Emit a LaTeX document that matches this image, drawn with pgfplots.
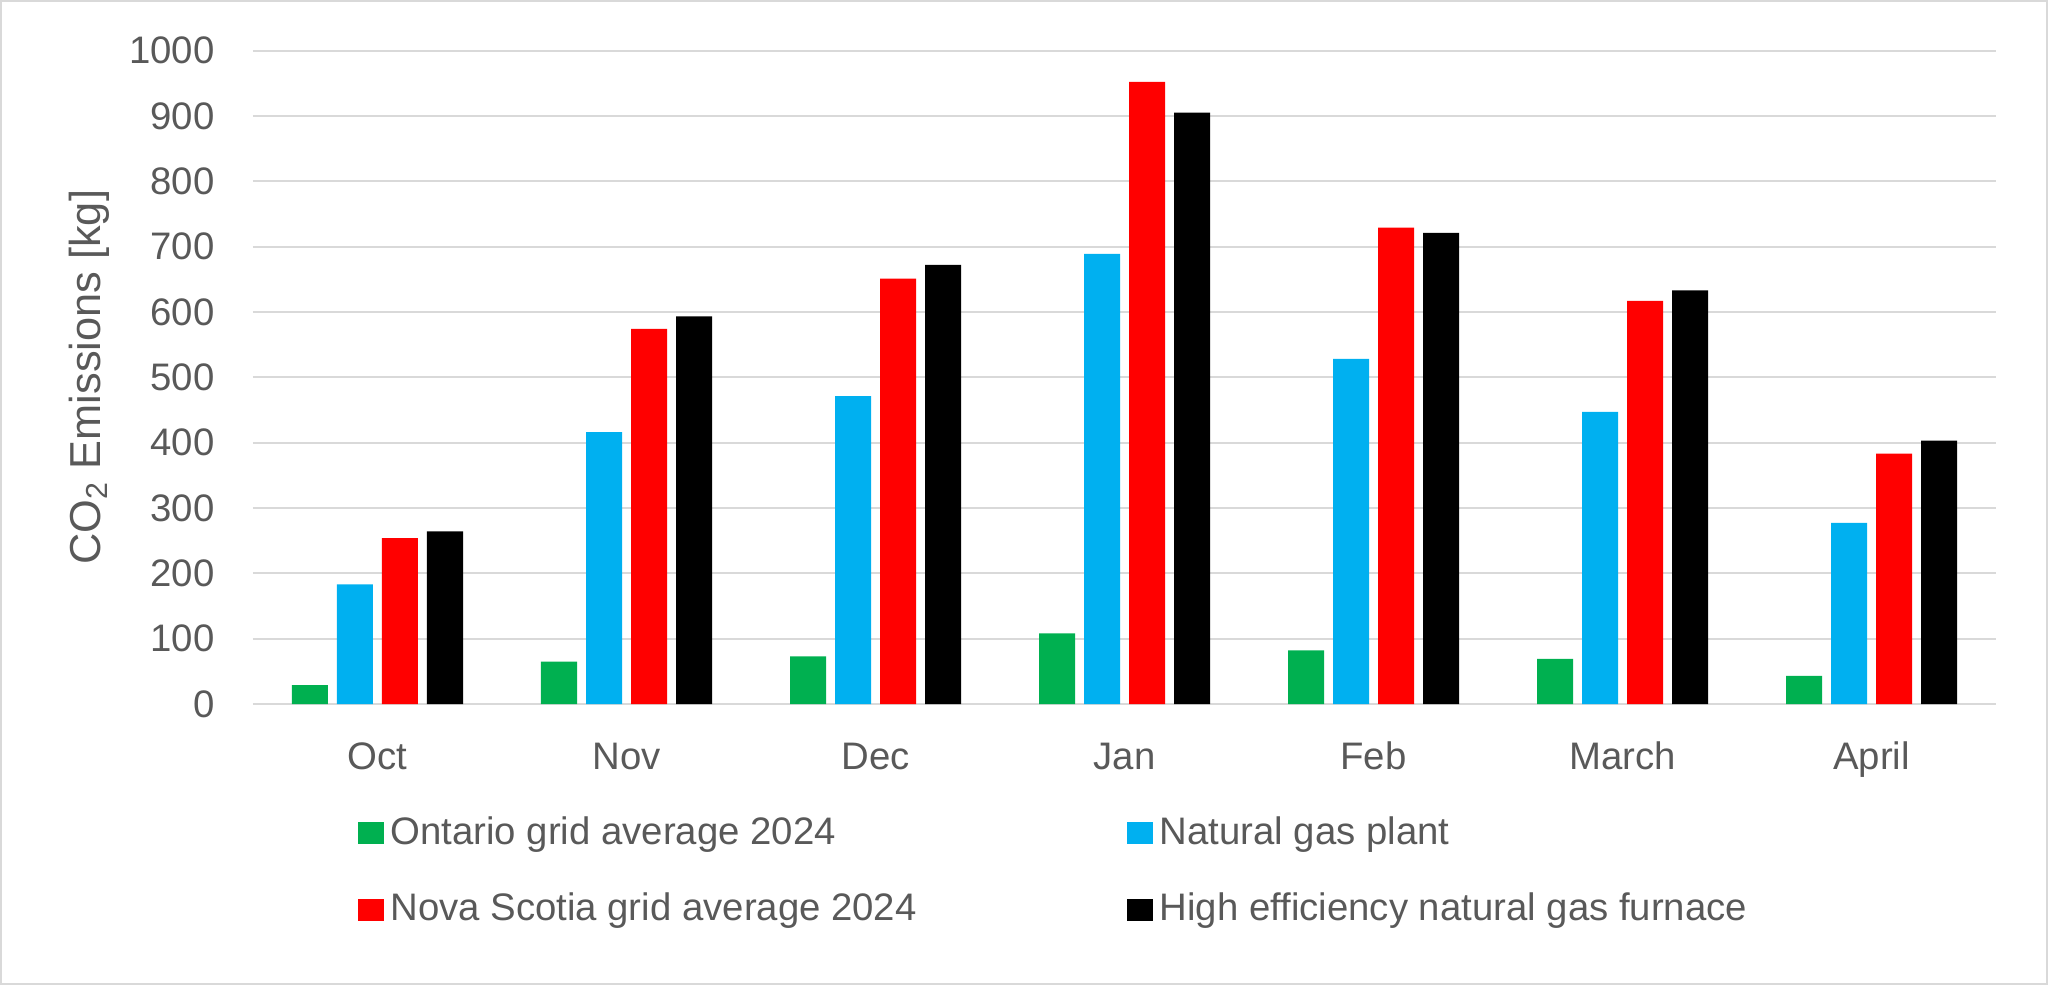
\documentclass[border=0pt]{standalone}
\usepackage{fontspec}
\setmainfont{Liberation Sans}
\usepackage{pgfplots}
\pgfplotsset{compat=1.18}
\definecolor{cgreen}{HTML}{00B050}
\definecolor{cblue}{HTML}{00B0F0}
\definecolor{cred}{HTML}{FF0000}
\definecolor{cgrid}{HTML}{D9D9D9}
\definecolor{ctext}{HTML}{595959}
\begin{document}
\begin{tikzpicture}
\begin{axis}[
  at={(0,0)}, anchor=south west,
  scale only axis, width=522.9pt, height=196.05pt,
  xmin=-0.5, xmax=6.5, ymin=0, ymax=1000,
  ybar=2.7pt, bar width=10.8pt,
  xtick={0,...,6}, xticklabels={Oct,Nov,Dec,Jan,Feb,March,April},
  ytick={0,100,...,1000},
  major tick length=0pt,
  axis line style={draw=none},
  ymajorgrids, grid style={cgrid, line width=0.6pt},
  tick label style={font=\fontsize{11.5}{13}\selectfont, text=ctext},
  /pgf/number format/assume math mode=true,
  /pgf/number format/1000 sep={},
  yticklabel style={xshift=-8pt},
  xticklabel style={anchor=base, yshift=-19.5pt},
  ylabel={CO\textsubscript{2} Emissions [kg]},
  every axis y label/.style={at={(axis description cs:-0.0941,0.5)}, rotate=90, anchor=center, font=\fontsize{13}{15}\selectfont, text=ctext},
  legend columns=2,
  legend cell align=left,
  legend image code/.code={\path (0pt,0pt) rectangle (7.8pt,6.6pt); \fill[#1] (0pt,0pt) rectangle (6.6pt,6.6pt);},
  legend style={at={(axis description cs:0.0597,-0.1607)}, anchor=north west, draw=none, fill=none, inner sep=0pt,
    cells={anchor=base west},
    font=\fontsize{11.5}{13}\selectfont, text=ctext, row sep=9.2pt},
]
\addplot[fill=cgreen, draw=none] coordinates {(0,29) (1,65) (2,73) (3,108) (4,82) (5,69) (6,43)};
\addlegendentry{\makebox[219pt][l]{Ontario grid average 2024}}
\addplot[fill=cblue, draw=none] coordinates {(0,183) (1,416) (2,471) (3,689) (4,528) (5,447) (6,277)};
\addlegendentry{Natural gas plant}
\addplot[fill=cred, draw=none] coordinates {(0,254) (1,574) (2,651) (3,952) (4,729) (5,617) (6,383)};
\addlegendentry{\makebox[219pt][l]{Nova Scotia grid average 2024}}
\addplot[fill=black, draw=none] coordinates {(0,264) (1,593) (2,672) (3,905) (4,721) (5,633) (6,403)};
\addlegendentry{High efficiency natural gas furnace}
\end{axis}
\pgfresetboundingbox
\draw[cgrid, line width=0.6pt] (-75.6pt,-84.0pt) rectangle (538.2pt,210.9pt);
\useasboundingbox (-75.9pt,-84.3pt) rectangle (538.5pt,211.2pt);
\end{tikzpicture}
\end{document}
